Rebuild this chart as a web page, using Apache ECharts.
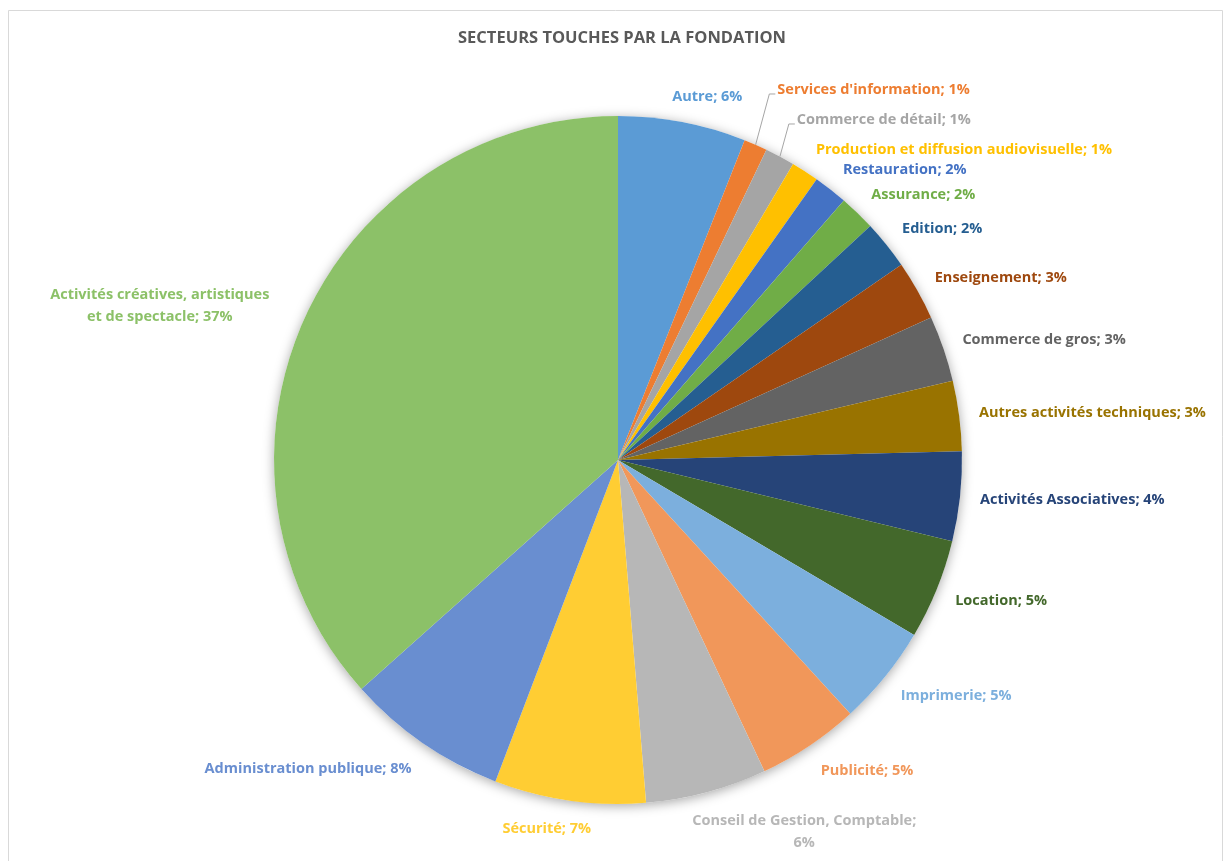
<!DOCTYPE html>
<html>
<head>
<meta charset="utf-8">
<script src="https://cdn.jsdelivr.net/npm/echarts@6/dist/echarts.min.js"></script>
<style>
html,body{margin:0;padding:0;background:#fff;}
#chart{width:1228px;height:861px;}
</style>
</head>
<body>
<div id="chart"></div>
<script>
// ---- data (clockwise from 12 o'clock) ----
const categories = [
  'Autre',
  "Services d'information",
  'Commerce de détail',
  'Production et diffusion audiovisuelle',
  'Restauration',
  'Assurance',
  'Edition',
  'Enseignement',
  'Commerce de gros',
  'Autres activités techniques',
  'Activités Associatives',
  'Location',
  'Imprimerie',
  'Publicité',
  'Conseil de Gestion, Comptable',
  'Sécurité',
  'Administration publique',
  'Activités créatives, artistiques et de spectacle'
];
const values = [6.0, 1.1, 1.4, 1.3, 1.6, 1.7, 2.3, 2.8, 3.1, 3.3, 4.2, 4.7, 4.7, 4.8, 5.7, 7.1, 7.6, 36.6];
const titleText = 'SECTEURS TOUCHES PAR LA FONDATION';

// ---- styles ----
const palette = ['#5B9BD5', '#ED7D31', '#A5A5A5', '#FFC000', '#4472C4', '#70AD47', '#255E91', '#9E480E',
  '#636363', '#997300', '#264478', '#43682B', '#7CAFDD', '#F1975A', '#B7B7B7', '#FFCD33', '#698ED0', '#8CC168'];
const FONT_FAMILY = 'Open Sans';
const FONT_SIZE = 14.5;
const LINE_H = 22;
const CX = 618, CY = 460, R = 344, GAP = 20;

const total = values.reduce((a, b) => a + b, 0);
const ctx = document.createElement('canvas').getContext('2d');
ctx.font = 'bold ' + FONT_SIZE + 'px ' + FONT_FAMILY;
const measure = s => ctx.measureText(s).width;
const clamp = v => Math.max(-1, Math.min(1, v));

function wrapText(text, maxW) {
  if (measure(text) <= maxW) return [text];
  const words = text.split(' ');
  const lines = [];
  let cur = '';
  words.forEach(w => {
    const t = cur ? cur + ' ' + w : w;
    if (measure(t) > maxW && cur) { lines.push(cur); cur = w; } else cur = t;
  });
  if (cur) lines.push(cur);
  return lines;
}

// Excel-like "outside end" label placement
let acc = 0;
const boxes = values.map((v, i) => {
  const a0 = acc / total * 2 * Math.PI; acc += v;
  const a1 = acc / total * 2 * Math.PI;
  const am = (a0 + a1) / 2;
  const ux = Math.sin(am), uy = -Math.cos(am);
  const text = categories[i] + '; ' + Math.round(v / total * 100) + '%';
  const maxW = (ux < 0 || uy > 0.9) ? 15.8 * FONT_SIZE : 9999;
  const lines = wrapText(text, maxW);
  const w = Math.max.apply(null, lines.map(measure));
  const h = lines.length * LINE_H - 4;
  const extraX = (lines.length > 1 && ux < 0) ? 18 : 0;
  const ax = CX + ux * (R + GAP + extraX), ay = CY + uy * (R + GAP);
  const ky = uy < 0 ? 0.6 : 1.2;
  return {
    ux, uy, w, h, lines,
    cx: ax + clamp(ux * 3.2) * w / 2,
    cy: ay + clamp(uy * ky) * h / 2,
    ex: CX + ux * R, ey: CY + uy * R
  };
});
// resolve overlaps in the upper right quarter by pushing labels outward
for (let i = boxes.length - 2; i >= 0; i--) {
  const a = boxes[i], b = boxes[i + 1];
  if (!(a.ux > 0 && a.uy < 0 && b.ux > 0 && b.uy < 0)) continue;
  const xOver = (a.cx - a.w / 2) < (b.cx + b.w / 2) && (b.cx - b.w / 2) < (a.cx + a.w / 2);
  const yOver = (a.cy + a.h / 2) > (b.cy - b.h / 2);
  if (xOver && yOver) {
    const ny = b.cy - b.h / 2 - 12 - a.h / 2;
    const dy = a.cy - ny;
    const d = dy / (-a.uy);
    a.cx += a.ux * d;
    a.cy = ny;
  }
}
boxes.forEach(b => {
  const left = b.cx - b.w / 2, top = b.cy - b.h / 2, bottom = b.cy + b.h / 2;
  const nx = Math.max(left, Math.min(b.ex, b.cx + b.w / 2));
  const ny = Math.max(top, Math.min(b.ey, bottom));
  const dist = Math.hypot(nx - b.ex, ny - b.ey);
  if (dist > 26 && b.ux > 0) {
    b.line = [[b.ex, b.ey], [left - 8, b.cy + 4], [left - 2, b.cy + 4]];
  } else {
    b.line = [[b.ex, b.ey], [b.ex, b.ey]];
  }
});

const chart = echarts.init(document.getElementById('chart'), null, { renderer: 'canvas' });
chart.setOption({
  animation: false,
  backgroundColor: '#ffffff',
  title: {
    text: titleText,
    left: 617, top: 25, textAlign: 'center',
    textStyle: { fontFamily: FONT_FAMILY, fontWeight: 'bold', fontSize: 16.5, color: '#595959' }
  },
  graphic: [{
    type: 'rect', silent: true, z: -10,
    shape: { x: 8.5, y: 10.5, width: 1214, height: 880 },
    style: { fill: 'none', stroke: '#d9d9d9', lineWidth: 1 }
  }],
  series: [{
    type: 'pie', silent: true, z: 1,
    center: [CX, CY], radius: R, startAngle: 90,
    label: { show: false }, labelLine: { show: false },
    itemStyle: { color: '#ffffff', shadowBlur: 12, shadowColor: 'rgba(0,0,0,0.35)', shadowOffsetY: 2 },
    data: [{ value: total, name: 'all' }]
  }, {
    type: 'pie', z: 2,
    center: [CX, CY], radius: R, startAngle: 90, clockwise: true,
    avoidLabelOverlap: false,
    itemStyle: { borderWidth: 0 },
    label: {
      show: true, position: 'outside',
      fontFamily: FONT_FAMILY, fontWeight: 'bold', fontSize: FONT_SIZE, lineHeight: LINE_H,
      align: 'center',
      formatter: p => boxes[p.dataIndex].lines.join('\n')
    },
    labelLine: { show: true, length: 5, length2: 5, lineStyle: { color: '#a6a6a6', width: 1 } },
    labelLayout: p => {
      const b = boxes[p.dataIndex];
      return { x: b.cx, y: b.cy, align: 'center', verticalAlign: 'middle', labelLinePoints: b.line };
    },
    data: values.map((v, i) => ({
      name: categories[i], value: v,
      itemStyle: { color: palette[i] },
      label: { color: palette[i] }
    }))
  }]
});
</script>
</body>
</html>
